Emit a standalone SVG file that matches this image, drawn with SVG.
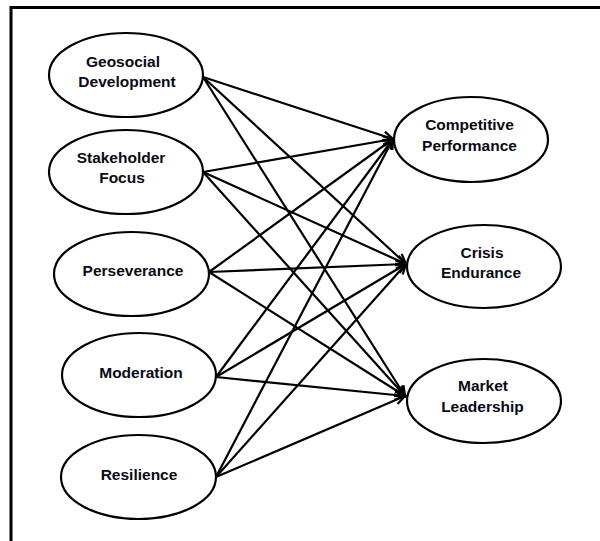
<svg xmlns="http://www.w3.org/2000/svg" width="600" height="541" viewBox="0 0 600 541">
<style>
  .node ellipse { fill: #fff; stroke: #000; stroke-width: 2.2; }
  .node text { font-family: "Liberation Sans", Arial, sans-serif; font-weight: bold; font-size: 15.5px; fill: #0a0a14; text-anchor: middle; }
  .edge { stroke: #000; stroke-width: 2.2; fill: none; marker-end: url(#arrow); }
  .frame { stroke: #000; stroke-width: 3; fill: none; }
</style>
<defs>
  <marker id="arrow" markerUnits="userSpaceOnUse" markerWidth="14" markerHeight="12" refX="11" refY="5" orient="auto" overflow="visible">
    <path d="M1,0.5 L11,5 L1,9.5" fill="none" stroke="#000" stroke-width="2.2" stroke-linejoin="miter"/>
  </marker>
</defs>
<rect x="0" y="0" width="600" height="541" fill="#fff"/>
<path class="frame" d="M11,541 L11,7.5 L600,7.5"/>
<g id="connectors">
  <line class="edge" x1="203" y1="77" x2="393" y2="139"/>
  <line class="edge" x1="203" y1="77" x2="406" y2="264"/>
  <line class="edge" x1="203" y1="77" x2="405" y2="396"/>
  <line class="edge" x1="203" y1="172" x2="393" y2="139"/>
  <line class="edge" x1="203" y1="172" x2="406" y2="264"/>
  <line class="edge" x1="203" y1="172" x2="405" y2="396"/>
  <line class="edge" x1="209" y1="272" x2="393" y2="139"/>
  <line class="edge" x1="209" y1="272" x2="406" y2="264"/>
  <line class="edge" x1="209" y1="272" x2="405" y2="396"/>
  <line class="edge" x1="216" y1="377" x2="393" y2="139"/>
  <line class="edge" x1="216" y1="377" x2="406" y2="264"/>
  <line class="edge" x1="216" y1="377" x2="405" y2="396"/>
  <line class="edge" x1="216" y1="477" x2="393" y2="139"/>
  <line class="edge" x1="216" y1="477" x2="406" y2="264"/>
  <line class="edge" x1="216" y1="477" x2="405" y2="396"/>
</g>
<g id="geosocial" class="node">
  <ellipse cx="126" cy="75" rx="77" ry="42"/>
  <text x="123" y="67">Geosocial</text>
  <text x="127" y="87">Development</text>
</g>
<g id="stakeholder" class="node">
  <ellipse cx="126" cy="172" rx="77" ry="42"/>
  <text x="121" y="163">Stakeholder</text>
  <text x="122" y="183">Focus</text>
</g>
<g id="perseverance" class="node">
  <ellipse cx="131.5" cy="274" rx="77.5" ry="42"/>
  <text x="133" y="276">Perseverance</text>
</g>
<g id="moderation" class="node">
  <ellipse cx="139" cy="375" rx="77" ry="42"/>
  <text x="141" y="378">Moderation</text>
</g>
<g id="resilience" class="node">
  <ellipse cx="138.5" cy="477" rx="77.5" ry="42"/>
  <text x="139" y="480">Resilience</text>
</g>
<g id="competitive" class="node">
  <ellipse cx="471" cy="139.5" rx="77" ry="42.5"/>
  <text x="469.5" y="130">Competitive</text>
  <text x="469.5" y="151">Performance</text>
</g>
<g id="crisis" class="node">
  <ellipse cx="484" cy="266.5" rx="77" ry="41.5"/>
  <text x="482" y="258">Crisis</text>
  <text x="481" y="278">Endurance</text>
</g>
<g id="market" class="node">
  <ellipse cx="484" cy="401" rx="77" ry="42"/>
  <text x="483" y="391">Market</text>
  <text x="482.5" y="412">Leadership</text>
</g>
</svg>
